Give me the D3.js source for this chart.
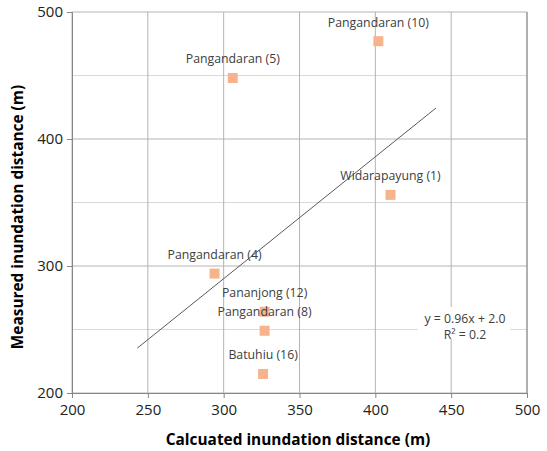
<!DOCTYPE html>
<html>
<head>
<meta charset="utf-8">
<script src="https://cdn.jsdelivr.net/npm/d3@7"></script>
<style>
  html, body { margin: 0; padding: 0; background: #fff; }
  svg { display: block; font-family: "Open Sans", "Noto Sans", sans-serif; }
</style>
</head>
<body>
<svg id="chart" width="547" height="451"></svg>
<script>
// Site names and their calculated vs measured inundation distances (m)
const sites = ["Pangandaran (10)", "Pangandaran (5)", "Widarapayung (1)", "Pangandaran (4)",
               "Pananjong (12)", "Pangandaran (8)", "Batuhiu (16)"];
const calculated = [402, 306, 410, 294, 327, 327, 326];
const measured   = [477, 448, 356, 294, 264, 249, 215];

// Linear trend: y = 0.96x + 2.0, drawn over this x span
const trendSlope = 0.96;
const trendIntercept = 2.0;
const trendSpan = [243, 440];
const equationLines = ["y = 0.96x + 2.0", "R\u00b2 = 0.2"];

const xTicks = [200, 250, 300, 350, 400, 450, 500];
const yTicks = [200, 300, 400, 500];
const yMinor = [250, 350, 450];

const xTitle = "Calcuated inundation distance (m)";
const yTitle = "Measured inundation distance (m)";

const svg = d3.select("#chart");
const x = d3.scaleLinear().domain([200, 500]).range([72, 527]);
const y = d3.scaleLinear().domain([200, 500]).range([393, 12]);

const grid = svg.append("g");
// minor horizontal gridlines
grid.selectAll("line.minor").data(yMinor).join("line")
  .attr("x1", x(200)).attr("x2", x(500))
  .attr("y1", d => y(d)).attr("y2", d => y(d))
  .attr("stroke", "#d9d9d9").attr("stroke-width", 1);
// major horizontal gridlines
grid.selectAll("line.hmajor").data(yTicks).join("line")
  .attr("x1", x(200)).attr("x2", x(500))
  .attr("y1", d => y(d)).attr("y2", d => y(d))
  .attr("stroke", "#b4b4b4").attr("stroke-width", 1);
// vertical gridlines
grid.selectAll("line.v").data(xTicks).join("line")
  .attr("x1", d => x(d)).attr("x2", d => x(d))
  .attr("y1", y(200)).attr("y2", y(500))
  .attr("stroke", "#b4b4b4").attr("stroke-width", 1);

// Axes
const xAxis = d3.axisBottom(x).tickValues(xTicks).tickSize(5).tickPadding(6).tickFormat(d3.format("d"));
const yAxis = d3.axisLeft(y).tickValues(yTicks).tickSize(5).tickPadding(4).tickFormat(d3.format("d"));

const gx = svg.append("g").attr("transform", `translate(0,${y(200)})`).call(xAxis);
const gy = svg.append("g").attr("transform", `translate(${x(200)},0)`).call(yAxis);
[gx, gy].forEach(g => {
  g.select(".domain").attr("stroke", "#868686");
  g.selectAll(".tick line").attr("stroke", "#868686");
  g.selectAll(".tick text").attr("fill", "#222").style("font-size", "15px")
    .style("font-family", "'Open Sans', sans-serif");
});
gx.selectAll(".tick text").attr("dy", "0.71em");

// right border
svg.append("line").attr("x1", x(500)).attr("x2", x(500)).attr("y1", y(200)).attr("y2", y(500))
  .attr("stroke", "#868686");

// Trendline
svg.append("line")
  .attr("x1", x(trendSpan[0])).attr("y1", y(trendSlope * trendSpan[0] + trendIntercept))
  .attr("x2", x(trendSpan[1])).attr("y2", y(trendSlope * trendSpan[1] + trendIntercept))
  .attr("stroke", "#595959").attr("stroke-width", 1);

// Points
const pts = sites.map((s, i) => ({ name: s, cx: calculated[i], my: measured[i] }));
const sq = 10;
svg.append("g").selectAll("rect").data(pts).join("rect")
  .attr("x", d => x(d.cx) - sq / 2).attr("y", d => y(d.my) - sq / 2)
  .attr("width", sq).attr("height", sq)
  .attr("fill", "#f7b48c");

// Data labels
svg.append("g").selectAll("text").data(pts).join("text")
  .attr("x", d => x(d.cx)).attr("y", d => y(d.my) - 19)
  .attr("dy", "0.35em").attr("text-anchor", "middle")
  .attr("fill", "#404040").style("font-size", "12.3px")
  .text(d => d.name);

// Equation box
const eqX = 465, eqY = 319;
svg.append("rect").attr("x", 418).attr("y", 307).attr("width", 92).attr("height", 32).attr("fill", "#fff");
svg.append("g").selectAll("text").data(equationLines).join("text")
  .attr("x", eqX).attr("y", (d, i) => eqY + i * 15.5)
  .attr("dy", "0.35em").attr("text-anchor", "middle")
  .attr("fill", "#404040").style("font-size", "12.3px")
  .text(d => d);

// Axis titles
svg.append("text").attr("x", 298).attr("y", 440).attr("dy", "0.35em")
  .attr("text-anchor", "middle").attr("font-weight", "bold").style("font-size", "15.4px")
  .attr("fill", "#000").text(xTitle);
svg.append("text").attr("transform", `translate(18,${217}) rotate(-90)`).attr("dy", "0.35em")
  .attr("text-anchor", "middle").attr("font-weight", "bold").style("font-size", "15.4px")
  .attr("fill", "#000").text(yTitle);
</script>
</body>
</html>
